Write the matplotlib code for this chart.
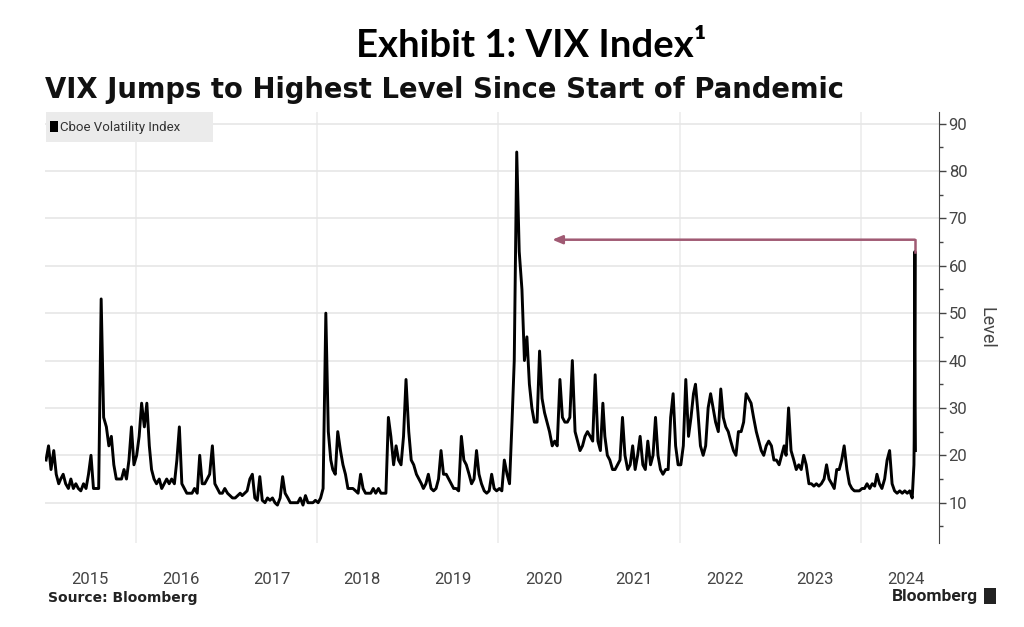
import pandas as pd
import matplotlib.pyplot as plt
import matplotlib.dates as mdates
from matplotlib.patches import Rectangle
from matplotlib.ticker import MultipleLocator

# VIX level, three readings per month (early / mid / late)
vix_2015 = [19, 22, 17, 21, 16, 14, 15, 16, 14, 13, 15, 13, 14, 13, 12.5, 14, 13, 16,
            20, 13, 13, 13, 53, 28, 26, 22, 24, 18, 15, 15, 15, 17, 15, 19, 26, 18]
vix_2016 = [20, 24, 31, 26, 31, 22, 17, 15, 14, 15, 13, 14, 15, 14, 15, 14, 19, 26,
            14, 13, 12, 12, 12, 13, 12, 20, 14, 14, 15, 16, 22, 14, 13, 12, 12, 13]
vix_2017 = [12, 11.5, 11, 11, 11.5, 12, 11.5, 12, 12.5, 15, 16, 11, 10.5, 15.5, 10.5, 10, 11, 10.5,
            11, 10, 9.5, 11, 15.5, 12, 11, 10, 10, 10, 10, 11, 9.5, 11.5, 10, 10, 10, 10.5]
vix_2018 = [10, 11, 13, 50, 25, 19, 17, 16, 25, 21, 18, 16, 13, 13, 13, 12.5, 12, 16,
            13, 12, 12, 12, 13, 12, 13, 12, 12, 12, 28, 24, 18, 22, 19, 18, 24, 36]
vix_2019 = [25, 19, 18, 16, 15, 14, 13, 14, 16, 13, 12.5, 13, 15, 21, 16, 16, 15, 14,
            13, 13, 12.5, 24, 19, 18, 16, 14, 15, 21, 16, 14, 12.5, 12, 12.5, 16, 13, 12.5]
vix_2020 = [13, 12.5, 19, 16, 14, 27, 40, 84, 63, 55, 40, 45, 35, 30, 27, 27, 42, 32,
            29, 27, 25, 22, 23, 22, 36, 28, 27, 27, 28, 40, 25, 23, 21, 22, 24, 25]
vix_2021 = [24, 23, 37, 23, 21, 31, 24, 20, 19, 17, 17, 18, 19, 28, 20, 17, 18, 22,
            17, 20, 24, 18, 17, 23, 18, 20, 28, 20, 17, 16, 17, 17, 28, 33, 22, 18]
vix_2022 = [18, 22, 36, 24, 28, 33, 35, 29, 22, 20, 22, 30, 33, 30, 27, 25, 34, 28,
            26, 25, 23, 21, 20, 25, 25, 27, 33, 32, 31, 28, 25, 23, 21, 20, 22, 23]
vix_2023 = [22, 19, 19, 18, 20, 22, 20, 30, 21, 19, 17, 18, 17, 20, 18, 14, 14, 13.5,
            14, 13.5, 14, 15, 18, 15, 14, 13, 17, 17, 19, 22, 17, 14, 13, 12.5, 12.5, 12.5]
vix_2024 = [13, 13, 14, 13, 14, 13.5, 16, 14, 13, 15, 19, 21, 14, 12.5, 12, 12.5, 12, 12.5,
            12, 12.5, 11]
# early August 2024 spike
tail_dates = ["2024-08-01", "2024-08-02", "2024-08-05", "2024-08-06", "2024-08-07"]
tail_vix = [18, 23, 63, 30, 21]

years = [2015, 2016, 2017, 2018, 2019, 2020, 2021, 2022, 2023, 2024]
yearly = [vix_2015, vix_2016, vix_2017, vix_2018, vix_2019, vix_2020,
          vix_2021, vix_2022, vix_2023, vix_2024]

dates, vix = [], []
for yr, vals in zip(years, yearly):
    slots = [pd.Timestamp(yr, m, d) for m in range(1, 13) for d in (5, 15, 25)]
    dates += slots[:len(vals)]
    vix += vals
dates += list(pd.to_datetime(tail_dates))
vix += tail_vix

arrow_level = 65.5
arrow_from = pd.Timestamp("2024-08-05")
arrow_to = pd.Timestamp("2020-08-05")

fig = plt.figure(figsize=(10.24, 6.27), dpi=100)
ax = fig.add_axes([0.044, 0.134, 0.873, 0.687])

ax.plot(dates, vix, color="black", lw=2.1, solid_joinstyle="round")

ax.set_xlim(pd.Timestamp("2015-01-01"), pd.Timestamp("2024-11-10"))
ax.set_ylim(1.5, 92.4)

# grid
ax.yaxis.grid(True, color="#e6e6e6", lw=1.2)
for yr in (2016, 2018, 2020, 2022, 2024):
    ax.axvline(pd.Timestamp(yr, 1, 1), color="#ececec", lw=1.2, zorder=0)
ax.set_axisbelow(True)

# right-hand axis
for s in ("left", "top", "bottom"):
    ax.spines[s].set_visible(False)
ax.spines["right"].set_color("#444444")
ax.yaxis.tick_right()
ax.yaxis.set_label_position("right")
ax.yaxis.set_minor_locator(MultipleLocator(5))
ax.set_yticks(range(10, 100, 10))
ax.tick_params(axis="y", which="major", length=5, width=1, colors="#444444",
               labelsize=12, pad=2)
ax.tick_params(axis="y", which="minor", length=3, width=1, colors="#444444")
for lbl in ax.get_yticklabels():
    lbl.set_fontfamily("Roboto")
ax.set_ylabel("Level", rotation=270, labelpad=20, fontsize=13, color="#444444",
              family="Roboto")

# year labels centred on mid-year
ax.xaxis.set_major_locator(mdates.MonthLocator(bymonth=7, bymonthday=1))
ax.xaxis.set_major_formatter(mdates.DateFormatter("%Y"))
ax.tick_params(axis="x", length=0, labelsize=12, colors="#444444", pad=21)
for lbl in ax.get_xticklabels():
    lbl.set_fontfamily("Roboto")

# arrow pointing back to the 2020 peak
ax.plot([arrow_from, arrow_from], [vix[-3], arrow_level], color="#a05a73", lw=1.8)
ax.annotate("", xy=(arrow_to, arrow_level), xytext=(arrow_from, arrow_level),
            arrowprops=dict(arrowstyle="-|>,head_length=0.6,head_width=0.25",
                            color="#a05a73", lw=1.8, shrinkA=0, shrinkB=0))

# legend box
fig.patches.append(Rectangle((0.045, 0.774), 0.163, 0.048, transform=fig.transFigure,
                             facecolor="#ebebeb", edgecolor="none"))
fig.patches.append(Rectangle((0.049, 0.789), 0.008, 0.018, transform=fig.transFigure,
                             facecolor="black", edgecolor="none"))
fig.text(0.059, 0.797, "Cboe Volatility Index", fontsize=9.5, color="#333333",
         va="center", family="Roboto")

# titles and footer
fig.text(0.519, 0.926, "Exhibit 1: VIX Index¹", fontsize=27.5, fontweight="bold",
         ha="center", va="center", family="Lato")
fig.text(0.044, 0.856, "VIX Jumps to Highest Level Since Start of Pandemic",
         fontsize=19.8, fontweight="bold", ha="left", va="center", color="#111111")
fig.text(0.047, 0.046, "Source: Bloomberg", fontsize=10, fontweight="bold",
         ha="left", va="center", color="#222222")
fig.text(0.955, 0.048, "Bloomberg", fontsize=12.5, fontweight="bold",
         ha="right", va="center", color="#222222", family="Roboto")
fig.patches.append(Rectangle((0.961, 0.036), 0.012, 0.026, transform=fig.transFigure,
                             facecolor="#222222", edgecolor="none"))

fig.savefig("out.png", dpi=100)
